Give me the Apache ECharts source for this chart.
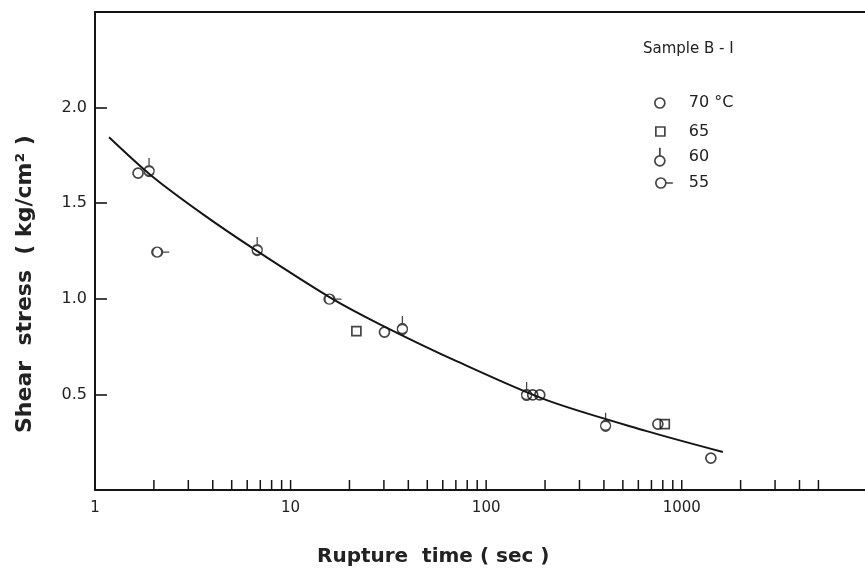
<!DOCTYPE html>
<html>
<head>
<meta charset="utf-8">
<script src="https://cdn.jsdelivr.net/npm/echarts@6/dist/echarts.min.js"></script>
<style>
html,body{margin:0;padding:0;background:#fff;}
#chart{width:865px;height:574px;}
</style>
</head>
<body>
<div id="chart"></div>
<script>
// ---- data ----
const fitTime   = [1.18, 1.958, 3.615, 6.753, 15.79, 28.46, 70.54, 203.9, 662.6, 1623];
const fitStress = [1.845, 1.641, 1.4375, 1.249, 1.009, 0.868, 0.674, 0.470, 0.308, 0.199];

const t70 = [1.66, 30.2, 173, 188, 755, 1409];
const v70 = [1.657, 0.826, 0.497, 0.497, 0.345, 0.167];
const t65 = [21.7, 819];
const v65 = [0.831, 0.345];
const t60 = [1.89, 6.75, 37.3, 161, 408];
const v60 = [1.668, 1.255, 0.842, 0.497, 0.336];
const t55 = [2.08, 15.8];
const v55 = [1.244, 0.998];

const xTickValues = [2,3,4,5,6,7,8,9,10,20,30,40,50,60,70,80,90,100,200,300,400,500,600,700,800,900,1000,2000,3000,4000,5000];
const yTicks = [0.5, 1.0, 1.5, 2.0];

const seriesNames = ['70 °C', '65', '60', '55'];
const legendTitle = 'Sample B - I';
const xTitle = 'Rupture  time ( sec )';
const yTitle = 'Shear  stress  ( kg/cm² )';

// ---- styles ----
const ink = '#151515';
const sym60 = 'path://M5 0 L5 8 M0 13 A5 5 0 1 0 10 13 A5 5 0 1 0 0 13 Z';
const sym55 = 'path://M0 5 A5 5 0 1 0 10 5 A5 5 0 1 0 0 5 Z M10 5 L17 5';
const markStyle = {color: 'rgba(0,0,0,0)', borderColor: ink, borderWidth: 1.7};

const zip = (a, b) => a.map((x, i) => [x, b[i]]);

const chart = echarts.init(document.getElementById('chart'), null, {renderer: 'canvas'});

const isPow10 = v => Math.abs(Math.log10(v) - Math.round(Math.log10(v))) < 1e-6;

const legendCommon = {
  orient: 'vertical', padding: 0, selectedMode: false,
  itemStyle: markStyle,
  textStyle: {fontFamily: 'DejaVu Sans', fontSize: 16, color: '#222'}
};

const option = {
  animation: false,
  backgroundColor: '#fff',
  grid: {left: 95, right: 0, top: 12, bottom: 84, containLabel: false},
  title: {
    text: legendTitle, left: 643, top: 42, padding: 0,
    textStyle: {fontFamily: 'DejaVu Sans', fontSize: 15, fontWeight: 'normal', color: '#222'}
  },
  legend: [
    Object.assign({}, legendCommon, {data: [seriesNames[0]], left: 654, top: 95, itemWidth: 10, itemHeight: 10, icon: 'circle',
      textStyle: Object.assign({}, legendCommon.textStyle, {padding: [0,0,0,19]})}),
    Object.assign({}, legendCommon, {data: [seriesNames[1]], left: 655, top: 123.5, itemWidth: 9, itemHeight: 9, icon: 'rect',
      textStyle: Object.assign({}, legendCommon.textStyle, {padding: [0,0,0,19]})}),
    Object.assign({}, legendCommon, {data: [seriesNames[2]], left: 654, top: 147, itemWidth: 10, itemHeight: 18, icon: sym60,
      textStyle: Object.assign({}, legendCommon.textStyle, {padding: [0,0,0,19]})}),
    Object.assign({}, legendCommon, {data: [seriesNames[3]], left: 655, top: 175, itemWidth: 17, itemHeight: 10, icon: sym55,
      textStyle: Object.assign({}, legendCommon.textStyle, {padding: [0,0,0,11]})})
  ],
  xAxis: [
    {
      type: 'log', logBase: 10, min: 1, max: 8650,
      axisLine: {show: true, lineStyle: {color: ink, width: 2}},
      axisTick: {show: false},
      splitLine: {show: false},
      minorTick: {show: false},
      axisLabel: {
        show: true, margin: 11, color: '#222', fontFamily: 'DejaVu Sans', fontSize: 15,
        showMaxLabel: false,
        formatter: v => isPow10(v) ? String(Math.round(v)) : ''
      }
    },
    {
      type: 'value', position: 'top', min: 0, max: 1,
      axisLine: {show: true, lineStyle: {color: ink, width: 2}},
      axisTick: {show: false}, axisLabel: {show: false}, splitLine: {show: false}
    }
  ],
  yAxis: {
    type: 'value', min: 0, max: 2.5, interval: 0.5,
    axisLine: {show: true, lineStyle: {color: ink, width: 2}},
    axisTick: {show: true, inside: true, length: 12, lineStyle: {color: ink, width: 1.6}},
    splitLine: {show: false},
    axisLabel: {
      margin: 8, color: '#222', fontFamily: 'DejaVu Sans', fontSize: 16,
      showMinLabel: false, showMaxLabel: false,
      formatter: v => yTicks.some(t => Math.abs(t - v) < 1e-9) ? v.toFixed(1) : ''
    }
  },
  graphic: [
    {type: 'text', left: 317, top: 547, style: {text: xTitle, fontFamily: 'DejaVu Sans', fontWeight: 'bold', fontSize: 20, fill: '#222'}},
    {type: 'text', x: 14, y: 433, rotation: Math.PI / 2, style: {text: yTitle, fontFamily: 'DejaVu Sans', fontWeight: 'bold', fontSize: 22, fill: '#222', align: 'left', verticalAlign: 'top'}}
  ],
  series: [
    {
      name: 'fit', type: 'line', smooth: 0.3, showSymbol: false, silent: true,
      data: zip(fitTime, fitStress),
      lineStyle: {color: ink, width: 2}, z: 2
    },
    {
      name: seriesNames[0], type: 'scatter', data: zip(t70, v70),
      symbol: 'circle', symbolSize: 10, itemStyle: markStyle, z: 3
    },
    {
      name: seriesNames[1], type: 'scatter', data: zip(t65, v65),
      symbol: 'rect', symbolSize: 9, itemStyle: markStyle, z: 3
    },
    {
      name: seriesNames[2], type: 'scatter', data: zip(t60, v60),
      symbol: sym60, symbolSize: [10, 18], symbolOffset: [0, -4], itemStyle: markStyle, z: 3
    },
    {
      name: seriesNames[3], type: 'scatter', data: zip(t55, v55),
      symbol: sym55, symbolSize: [17, 10], symbolOffset: [3.5, 0], itemStyle: markStyle, z: 3
    },
    {
      name: 'ticks', type: 'custom', silent: true, clip: false,
      data: xTickValues.map(v => [v, 0]),
      renderItem: (params, api) => {
        const p = api.coord([api.value(0), 0]);
        return {type: 'line', shape: {x1: p[0], y1: p[1], x2: p[0], y2: p[1] - 10},
          style: {stroke: ink, lineWidth: 1.5}};
      },
      z: 4
    }
  ]
};

chart.setOption(option);
</script>
</body>
</html>
